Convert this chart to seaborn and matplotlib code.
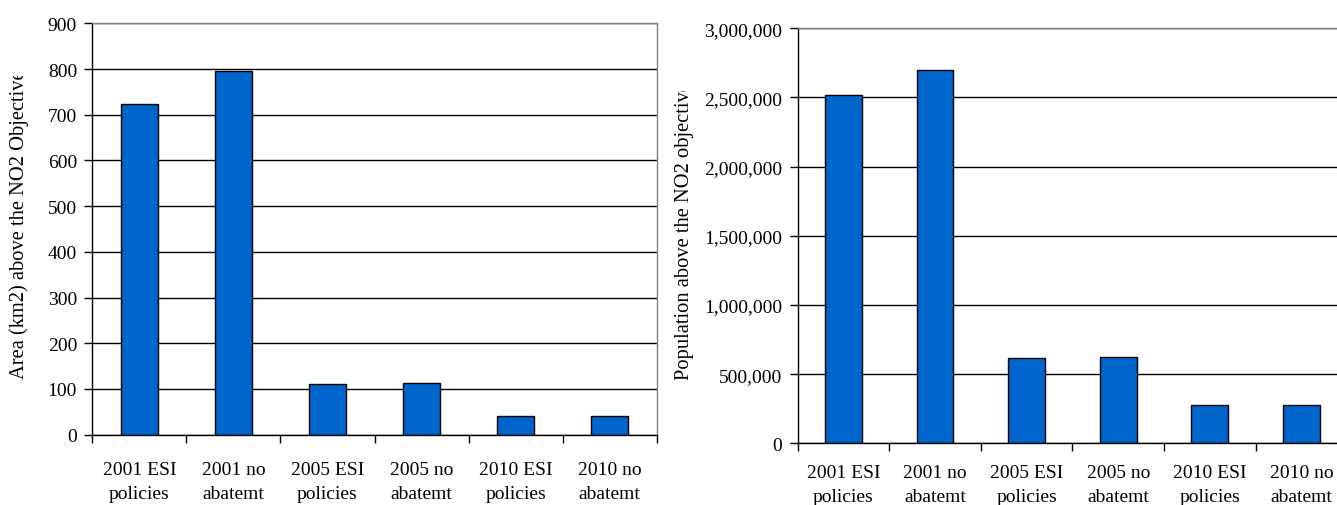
import numpy as np
import pandas as pd
import matplotlib
matplotlib.use("Agg")
import matplotlib.pyplot as plt
from matplotlib.ticker import StrMethodFormatter, MultipleLocator
from matplotlib.transforms import Bbox, TransformedBbox, IdentityTransform
import seaborn as sns

# Scenario categories (two-line tick labels)
categories = ["2001 ESI\npolicies", "2001 no\nabatemt", "2005 ESI\npolicies",
              "2005 no\nabatemt", "2010 ESI\npolicies", "2010 no\nabatemt"]

# Area (km2) exceeding the NO2 objective
area_km2 = [724, 795, 111, 114, 40, 40]

# Population living above the NO2 objective
population = [2520000, 2700000, 614000, 626000, 277000, 277000]

BAR_COLOR = "#0066CC"
W, H = 1337, 506
TICK_FS = 14
LABEL_FS = 14.8

sns.set_theme(style="white")
plt.rcParams["font.family"] = ["Liberation Serif", "DejaVu Serif"]
plt.rcParams.update({
    "text.color": "black",
    "axes.labelcolor": "black",
    "xtick.color": "black",
    "ytick.color": "black",
})

fig = plt.figure(figsize=(W / 100, H / 100), dpi=100)
fig.patch.set_facecolor("white")


def px_axes(x0, x1, ytop, ybot):
    return fig.add_axes([x0 / W, 1 - ybot / H, (x1 - x0) / W, (ybot - ytop) / H])


ax1 = px_axes(92.3, 656.7, 24.3, 435.7)
ax2 = px_axes(797.6, 1347.2, 29.3, 444.3)

df_area = pd.DataFrame({"scenario": categories, "value": area_km2})
df_pop = pd.DataFrame({"scenario": categories, "value": population})


def style_panel(ax, data, ymax, step, ylabel, label_xy, fmt, clip_top, xpad):
    sns.barplot(data=data, x="scenario", y="value", ax=ax, color=BAR_COLOR,
                width=0.4, edgecolor="black", linewidth=1.0, saturation=1)
    ax.set_facecolor("white")
    ax.set_xlim(-0.5, len(categories) - 0.5)
    ax.set_ylim(0, ymax)
    ax.yaxis.set_major_locator(MultipleLocator(step))
    ax.yaxis.set_major_formatter(StrMethodFormatter(fmt))
    ax.set_axisbelow(True)
    ax.yaxis.grid(True, color="black", linewidth=1.0)
    ax.xaxis.grid(False)
    for side in ("left", "bottom"):
        ax.spines[side].set_color("black")
        ax.spines[side].set_linewidth(1.0)
    for side in ("top", "right"):
        ax.spines[side].set_color("#808080")
        ax.spines[side].set_linewidth(1.0)
    # category separators as minor ticks on the x axis
    ax.set_xticks(np.arange(-0.5, len(categories), 1.0), minor=True)
    ax.tick_params(axis="x", which="major", length=0, pad=xpad, labelsize=TICK_FS)
    ax.tick_params(axis="x", which="minor", length=6, width=1, color="black",
                   direction="out", bottom=True)
    ax.tick_params(axis="y", which="major", length=6, width=1, color="black",
                   direction="out", left=True, pad=5, labelsize=TICK_FS)
    for lab in ax.get_xticklabels():
        lab.set_linespacing(1.5)
    ax.set_xlabel("")
    ax.set_ylabel(ylabel, fontsize=LABEL_FS, va="center", ha="center")
    ax.yaxis.set_label_coords(*label_xy)
    # the axis title is cut off at the top of its frame
    lab = ax.yaxis.label
    clip = TransformedBbox(Bbox([[0, 0], [W, H - clip_top]]), IdentityTransform())
    lab.set_clip_box(clip)
    lab.set_clip_on(True)


style_panel(ax1, df_area, 900, 100, "Area (km2) above the NO2 Objective",
            ((19 - 92.3) / 564.4, (435.7 - 225) / 411.4), "{x:.0f}", 77, 19)
style_panel(ax2, df_pop, 3000000, 500000, "Population above the NO2 objective",
            ((685 - 797.6) / 549.6, (444.3 - 231) / 415.0), "{x:,.0f}", 92, 15)

fig.savefig("out.png", dpi=100, facecolor="white")
